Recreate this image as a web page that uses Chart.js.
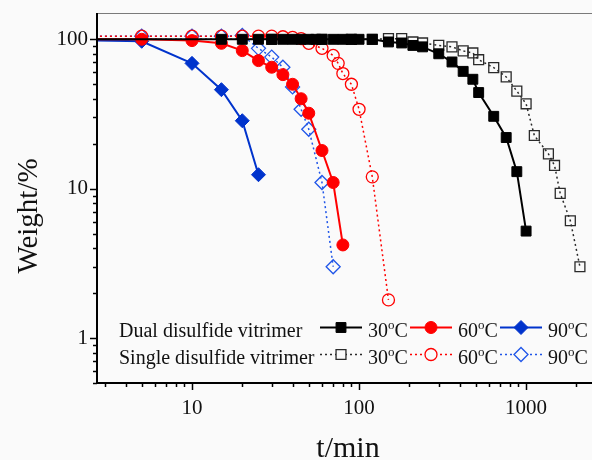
<!DOCTYPE html>
<html>
<head>
<meta charset="utf-8">
<title>Weight loss vs time</title>
<script src="https://cdn.jsdelivr.net/npm/chart.js"></script>
<style>
  html, body { margin: 0; padding: 0; background: #fafafa; }
</style>
</head>
<body>
<canvas id="wChart" width="592" height="460"></canvas>

<script>
// time (min) and remaining weight (%) per sample
const dual30T = [1, 15, 20, 25, 30, 35, 40, 45, 50, 55, 60, 70, 80, 90, 100, 120,
                 150, 180, 210, 240, 300, 360, 420, 480, 520, 640, 760, 880, 1000];
const dual30W = [100, 100, 100, 100, 100, 100, 100, 100, 100, 100, 100, 100, 100, 100, 100, 100,
                 96, 94.5, 91, 89, 80, 70.5, 61, 54, 44, 30.5, 22, 13, 5.2];

const dual60T = [1, 5, 10, 15, 20, 25, 30, 35, 40, 45, 50, 60, 70, 80];
const dual60W = [100, 100, 98, 94, 84, 72, 65, 58, 50, 40, 32, 18, 11, 4.2];

const dual90T = [1, 5, 10, 15, 20, 25];
const dual90W = [100, 97, 69, 46, 28.5, 12.4];

const single30T = [1, 30, 60, 90, 120, 150, 180, 210, 240, 300, 360, 420, 480, 520,
                   640, 760, 880, 1000, 1120, 1360, 1480, 1600, 1840, 2100];
const single30W = [100, 100, 100, 100, 100, 101, 101, 96, 94.5, 91, 89, 83.6, 81, 73,
                   64.6, 56, 45, 37, 22.7, 17.1, 14.3, 9.3, 6.1, 3.0];

const single60T = [1, 5, 10, 15, 20, 25, 30, 35, 40, 45, 50, 60, 70, 75, 80, 90, 100, 120, 150];
const single60W = [105, 105, 105, 105, 105, 105, 105, 104, 103, 101, 94, 87, 78, 69, 59, 50, 34, 12, 1.8];

const single90T = [1, 5, 10, 15, 20, 25, 30, 35, 40, 45, 50, 60, 70];
const single90W = [105, 105, 105, 105, 106, 87, 76, 65, 48, 34, 25, 11, 3];

const xTicks = [3, 4, 5, 6, 7, 8, 9, 10, 20, 30, 40, 50, 60, 70, 80, 90,
                100, 200, 300, 400, 500, 600, 700, 800, 900, 1000, 2000];
const yTicks = [0.5, 0.6, 0.7, 0.8, 0.9, 1, 2, 3, 4, 5, 6, 7, 8, 9,
                10, 20, 30, 40, 50, 60, 70, 80, 90, 100];
const xLabels = [10, 100, 1000];
const yLabels = [1, 10, 100];

const rows = ['Dual disulfide vitrimer', 'Single disulfide vitrimer'];
const temps = ['30', '60', '90'];

const SERIF = '"Liberation Serif", "Times New Roman", serif';
const BLACK = '#000000', RED = '#ff0000', BLUE = '#0033cc';
const BLUE_OPEN = '#1f55e8', GREY_OPEN = '#2a2a2a';

function pts(t, w) {
  return t.map((x, i) => ({ x: x, y: w[i] }));
}

const solid = { borderWidth: 2, pointBorderWidth: 1, showLine: true, tension: 0 };
const dotted = { borderWidth: 1.5, borderDash: [2, 3], pointBorderWidth: 1.3,
                 showLine: true, tension: 0, pointBackgroundColor: 'rgba(0,0,0,0)' };

// first dataset is drawn on top
const datasets = [
  { label: 'Dual 30', data: pts(dual30T, dual30W), ...solid, borderColor: BLACK,
    pointBackgroundColor: BLACK, pointBorderColor: BLACK, pointStyle: 'rect', pointRadius: 7 },
  { label: 'Dual 60', data: pts(dual60T, dual60W), ...solid, borderColor: RED,
    pointBackgroundColor: RED, pointBorderColor: RED, pointStyle: 'circle', pointRadius: 6 },
  { label: 'Dual 90', data: pts(dual90T, dual90W), ...solid, borderColor: BLUE,
    pointBackgroundColor: BLUE, pointBorderColor: BLUE, pointStyle: 'rectRot', pointRadius: 7 },
  { label: 'Single 30', data: pts(single30T, single30W), ...dotted, borderColor: GREY_OPEN,
    pointBorderColor: GREY_OPEN, pointStyle: 'rect', pointRadius: 7 },
  { label: 'Single 60', data: pts(single60T, single60W), ...dotted, borderColor: RED,
    pointBorderColor: RED, pointStyle: 'circle', pointRadius: 6 },
  { label: 'Single 90', data: pts(single90T, single90W), ...dotted, borderColor: BLUE_OPEN,
    pointBorderColor: BLUE_OPEN, pointStyle: 'rectRot', pointRadius: 7 }
];

function marker(ctx, style, x, y, r, fill, stroke, lw) {
  ctx.save();
  ctx.setLineDash([]);
  ctx.beginPath();
  if (style === 'rect') {
    const s = r * Math.SQRT1_2;
    ctx.rect(x - s, y - s, 2 * s, 2 * s);
  } else if (style === 'rectRot') {
    ctx.moveTo(x - r, y); ctx.lineTo(x, y - r); ctx.lineTo(x + r, y); ctx.lineTo(x, y + r);
    ctx.closePath();
  } else {
    ctx.arc(x, y, r, 0, Math.PI * 2);
  }
  if (fill) { ctx.fillStyle = fill; ctx.fill(); }
  ctx.lineWidth = lw;
  ctx.strokeStyle = stroke;
  ctx.stroke();
  ctx.restore();
}

// axes frame, tick marks, axis titles and the two-row legend
const decor = {
  id: 'decor',
  afterDraw(chart) {
    const ctx = chart.ctx;
    const a = chart.chartArea;
    const xs = chart.scales.x, ys = chart.scales.y;
    ctx.save();

    ctx.strokeStyle = '#000';
    ctx.lineWidth = 1.5;
    xTicks.forEach(v => {
      const px = Math.round(xs.getPixelForValue(v)) + 0.5;
      const len = xLabels.includes(v) ? 7 : 4;
      ctx.beginPath(); ctx.moveTo(px, a.bottom); ctx.lineTo(px, a.bottom + len); ctx.stroke();
    });
    yTicks.forEach(v => {
      const py = Math.round(ys.getPixelForValue(v)) + 0.5;
      const len = yLabels.includes(v) ? 7 : 4;
      ctx.beginPath(); ctx.moveTo(a.left, py); ctx.lineTo(a.left - len, py); ctx.stroke();
    });

    ctx.strokeStyle = '#7a7a7a';
    ctx.lineWidth = 1;
    ctx.beginPath(); ctx.moveTo(a.left, a.top + 0.5); ctx.lineTo(a.right, a.top + 0.5); ctx.stroke();
    ctx.strokeStyle = '#000';
    ctx.lineWidth = 2;
    ctx.beginPath();
    ctx.moveTo(a.left, a.top); ctx.lineTo(a.left, a.bottom); ctx.lineTo(a.right, a.bottom);
    ctx.stroke();

    ctx.fillStyle = '#111';
    ctx.font = '30px ' + SERIF;
    ctx.textAlign = 'center';
    ctx.textBaseline = 'alphabetic';
    ctx.fillText('t/min', 348, 457);
    ctx.save();
    ctx.translate(37, 216);
    ctx.rotate(-Math.PI / 2);
    ctx.font = '29px ' + SERIF;
    ctx.fillText('Weight/%', 0, 0);
    ctx.restore();

    // legend
    const rowY = [336.5, 363.5];
    const sampleX = [320, 410, 500];
    ctx.textAlign = 'left';
    rows.forEach((name, r) => {
      const base = rowY[r];
      const my = base - 9;
      ctx.fillStyle = '#111';
      ctx.font = '20px ' + SERIF;
      ctx.fillText(name, 119, base);
      for (let k = 0; k < 3; k++) {
        const ds = datasets[r * 3 + k];
        const x0 = sampleX[k];
        ctx.save();
        ctx.strokeStyle = ds.borderColor;
        ctx.lineWidth = ds.borderWidth;
        ctx.setLineDash(ds.borderDash || []);
        ctx.beginPath(); ctx.moveTo(x0, my); ctx.lineTo(x0 + 42, my); ctx.stroke();
        ctx.restore();
        const filled = r === 0 ? ds.pointBackgroundColor : '#fafafa';
        marker(ctx, ds.pointStyle, x0 + 21, my, ds.pointRadius, filled,
               ds.pointBorderColor, ds.pointBorderWidth);

        let tx = x0 + 48;
        ctx.fillStyle = '#111';
        ctx.font = '20px ' + SERIF;
        ctx.fillText(temps[k], tx, base);
        tx += ctx.measureText(temps[k]).width;
        ctx.font = '13px ' + SERIF;
        ctx.fillText('o', tx, base - 8);
        tx += ctx.measureText('o').width;
        ctx.font = '20px ' + SERIF;
        ctx.fillText('C', tx, base);
      }
    });
    ctx.restore();
  }
};

new Chart(document.getElementById('wChart'), {
  type: 'scatter',
  data: { datasets: datasets },
  options: {
    responsive: false,
    animation: false,
    layout: { autoPadding: false, padding: { top: 13, right: 0, left: 0, bottom: 0 } },
    plugins: { legend: { display: false }, tooltip: { enabled: false } },
    scales: {
      x: {
        type: 'logarithmic',
        min: 2.7,
        max: 2480,
        grid: { display: false, drawTicks: false },
        border: { display: false },
        afterBuildTicks(s) { s.ticks = xTicks.map(v => ({ value: v })); },
        afterFit(s) { s.height = 77; s.paddingLeft = 0; s.paddingRight = 0; },
        ticks: {
          autoSkip: false, maxRotation: 0, minRotation: 0, padding: 13,
          color: '#111', font: { family: SERIF, size: 21 },
          callback: v => xLabels.includes(v) ? String(v) : ''
        }
      },
      y: {
        type: 'logarithmic',
        min: 0.5,
        max: 150,
        grid: { display: false, drawTicks: false },
        border: { display: false },
        afterBuildTicks(s) { s.ticks = yTicks.map(v => ({ value: v })); },
        afterFit(s) { s.width = 97; s.paddingTop = 0; s.paddingBottom = 0; },
        ticks: {
          autoSkip: false, padding: 9,
          color: '#111', font: { family: SERIF, size: 21 },
          callback: v => yLabels.includes(v) ? String(v) : ''
        }
      }
    }
  },
  plugins: [decor]
});
</script>
</body>
</html>
